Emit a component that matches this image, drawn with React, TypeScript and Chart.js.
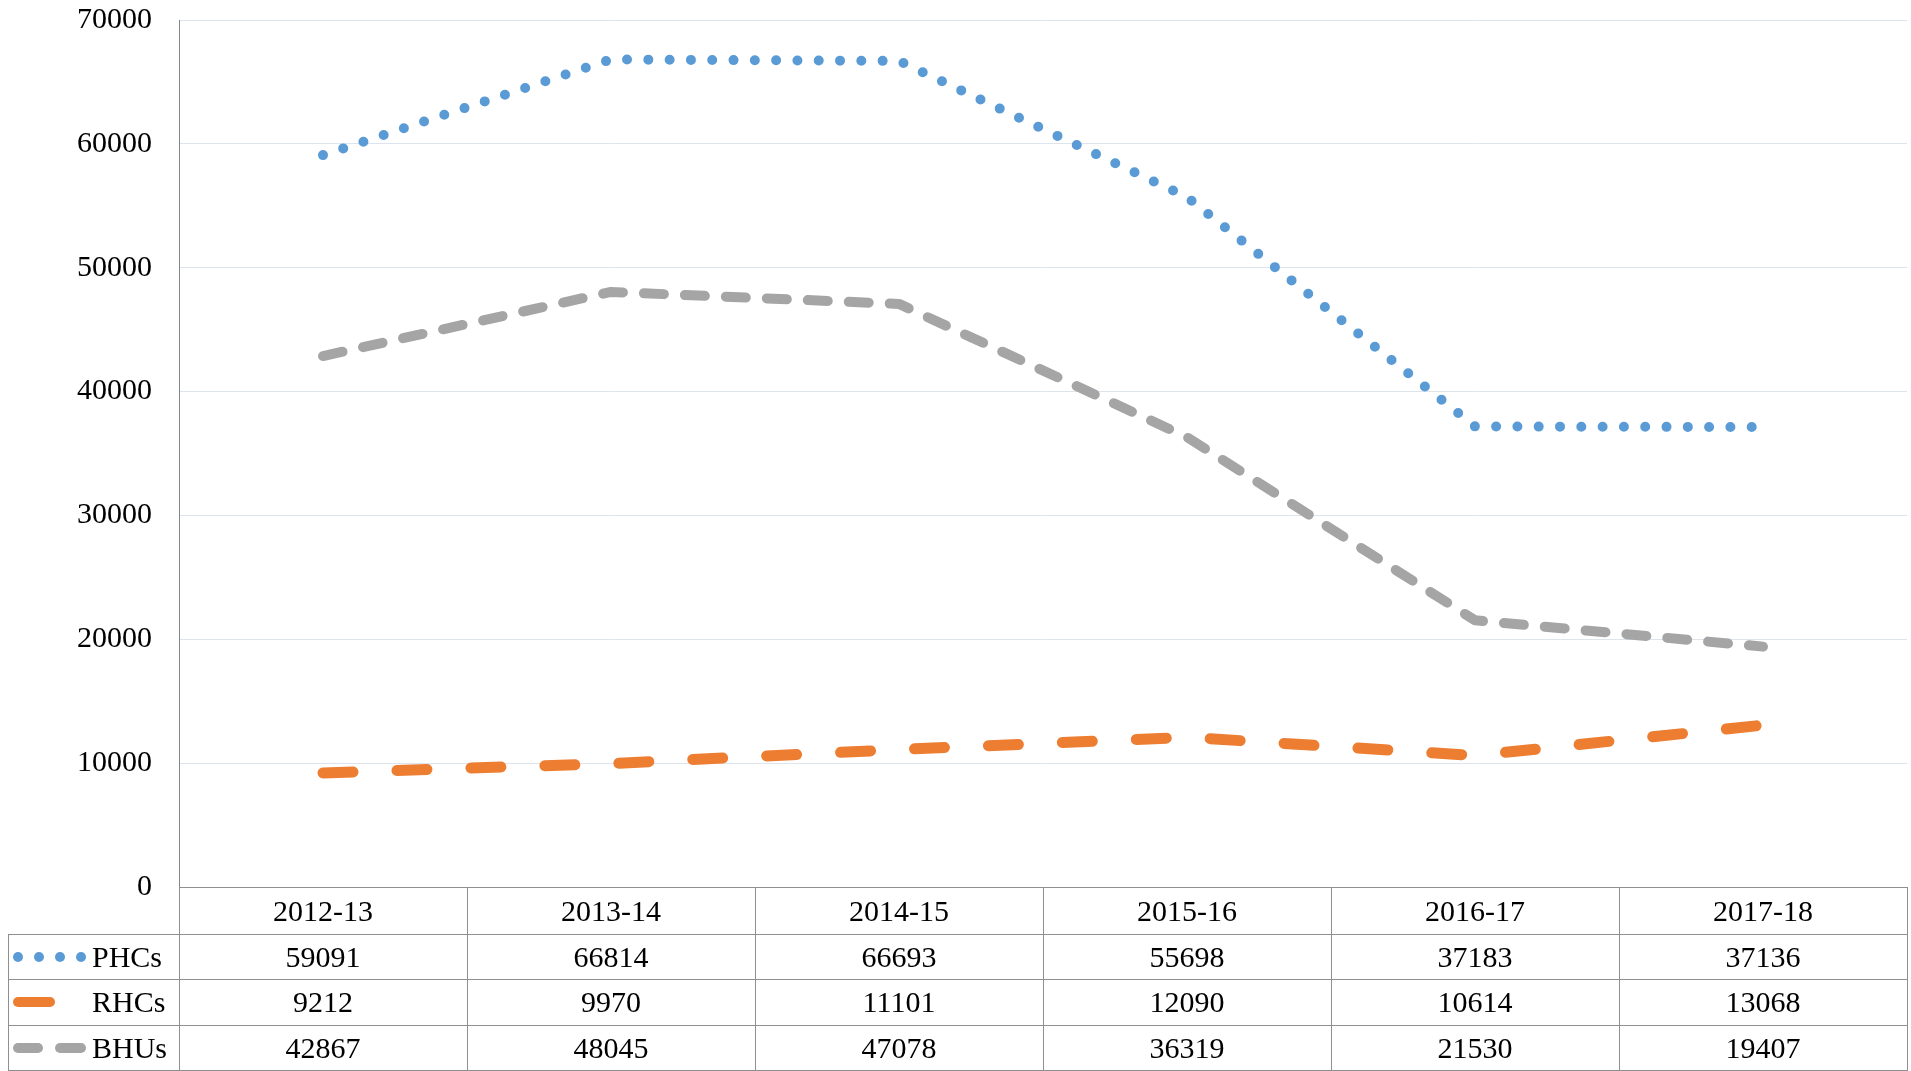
import React, { useEffect, useRef } from "react";
import { Chart, registerables } from "chart.js";

Chart.register(...registerables);

const categories = ["2012-13", "2013-14", "2014-15", "2015-16", "2016-17", "2017-18"];
const phcs = [59091, 66814, 66693, 55698, 37183, 37136];
const rhcs = [9212, 9970, 11101, 12090, 10614, 13068];
const bhus = [42867, 48045, 47078, 36319, 21530, 19407];
const seriesNames = ["PHCs", "RHCs", "BHUs"];
const yMax = 70000;
const yStep = 10000;

const BLUE = "#5B9BD5";
const ORANGE = "#ED7D31";
const GRAY = "#A5A5A5";
const FONT = "'Liberation Serif', 'Times New Roman', serif";
const BORDER = "#8f8f8f";

// layout
const W = 1911;
const AXIS_X = 179;
const COL_W = 288;
const RIGHT = AXIS_X + COL_W * 6;
const PLOT_TOP = 20;
const PLOT_BOTTOM = 887;
const HEADER_BOTTOM = 934;
const ROW_TOPS = [934, 979, 1025];
const ROW_H = 46;

function LegendKey({ idx }: { idx: number }) {
  if (idx === 0) {
    return (
      <>
        {[18, 39, 60, 81].map((cx) => (
          <div
            key={cx}
            style={{
              position: "absolute",
              left: cx - 5,
              top: 18,
              width: 10,
              height: 10,
              borderRadius: 5,
              background: BLUE,
            }}
          />
        ))}
      </>
    );
  }
  if (idx === 1) {
    return (
      <div
        style={{
          position: "absolute",
          left: 13,
          top: 18,
          width: 42,
          height: 10,
          borderRadius: 5,
          background: ORANGE,
        }}
      />
    );
  }
  return (
    <>
      {[
        [13, 30],
        [55, 31],
      ].map(([l, w]) => (
        <div
          key={l}
          style={{
            position: "absolute",
            left: l,
            top: 18,
            width: w,
            height: 10,
            borderRadius: 5,
            background: GRAY,
          }}
        />
      ))}
    </>
  );
}

export default function App() {
  const ref = useRef<HTMLCanvasElement | null>(null);

  useEffect(() => {
    document.body.style.margin = "0";
    const ctx = ref.current;
    if (!ctx) return;
    const common = {
      pointRadius: 0,
      tension: 0,
      borderCapStyle: "round" as const,
      borderJoinStyle: "round" as const,
      fill: false,
    };
    const chart = new Chart(ctx, {
      type: "line",
      data: {
        labels: categories,
        datasets: [
          {
            ...common,
            label: seriesNames[0],
            data: phcs,
            borderColor: BLUE,
            borderWidth: 10,
            borderDash: [0, 21.3],
          },
          {
            ...common,
            label: seriesNames[1],
            data: rhcs,
            borderColor: ORANGE,
            borderWidth: 11,
            borderDash: [30, 44],
          },
          {
            ...common,
            label: seriesNames[2],
            data: bhus,
            borderColor: GRAY,
            borderWidth: 10,
            borderDash: [20, 21],
          },
        ],
      },
      options: {
        responsive: false,
        animation: false,
        layout: { padding: { left: 0, right: W - RIGHT, top: PLOT_TOP, bottom: HEADER_BOTTOM - PLOT_BOTTOM } },
        plugins: { legend: { display: false }, tooltip: { enabled: false } },
        scales: {
          x: {
            display: false,
            offset: true,
          },
          y: {
            min: 0,
            max: yMax,
            ticks: {
              stepSize: yStep,
              padding: 27,
              color: "#000",
              font: { family: FONT, size: 30 },
              callback: (v: any) => String(v),
            },
            grid: { color: "#dde4ee", lineWidth: 1, drawTicks: false },
            border: { display: true, color: "#868686", width: 1 },
            afterFit: (scale: any) => {
              scale.width = AXIS_X;
              scale.paddingTop = 0;
              scale.paddingBottom = 0;
            },
          },
        },
      },
    });
    return () => chart.destroy();
  }, []);

  const textStyle: React.CSSProperties = {
    position: "absolute",
    fontFamily: FONT,
    fontSize: 30,
    color: "#000",
    lineHeight: "1",
    display: "flex",
    alignItems: "center",
    justifyContent: "center",
    boxSizing: "border-box",
  };

  const rows = [phcs, rhcs, bhus];

  return (
    <div style={{ position: "absolute", left: 0, top: 0, width: W, height: 1071, overflow: "hidden", background: "#fff" }}>
      <canvas ref={ref} width={W} height={HEADER_BOTTOM} style={{ position: "absolute", left: 0, top: 0, width: W, height: HEADER_BOTTOM }} />
      <div style={{ position: "absolute", left: AXIS_X, top: PLOT_BOTTOM, width: RIGHT - AXIS_X + 1, height: 1, background: BORDER }} />
      {ROW_TOPS.map((t) => (
        <div key={t} style={{ position: "absolute", left: 8, top: t, width: RIGHT - 8 + 1, height: 1, background: BORDER }} />
      ))}
      <div style={{ position: "absolute", left: 8, top: 1070, width: RIGHT - 8 + 1, height: 1, background: BORDER }} />
      <div style={{ position: "absolute", left: 8, top: HEADER_BOTTOM, width: 1, height: 1071 - HEADER_BOTTOM, background: BORDER }} />
      {Array.from({ length: 7 }).map((_, i) => (
        <div
          key={i}
          style={{ position: "absolute", left: AXIS_X + COL_W * i, top: PLOT_BOTTOM, width: 1, height: 1071 - PLOT_BOTTOM, background: BORDER }}
        />
      ))}
      {categories.map((c, i) => (
        <div key={c} style={{ ...textStyle, left: AXIS_X + COL_W * i, top: PLOT_BOTTOM, width: COL_W, height: HEADER_BOTTOM - PLOT_BOTTOM }}>
          {c}
        </div>
      ))}
      {rows.map((vals, r) => (
        <React.Fragment key={r}>
          <div style={{ position: "absolute", left: 0, top: ROW_TOPS[r], width: AXIS_X, height: ROW_H }}>
            <LegendKey idx={r} />
            <div style={{ ...textStyle, left: 92, top: 0, height: ROW_H, justifyContent: "flex-start" }}>{seriesNames[r]}</div>
          </div>
          {vals.map((v, i) => (
            <div key={i} style={{ ...textStyle, left: AXIS_X + COL_W * i, top: ROW_TOPS[r], width: COL_W, height: ROW_H }}>
              {String(v)}
            </div>
          ))}
        </React.Fragment>
      ))}
    </div>
  );
}
